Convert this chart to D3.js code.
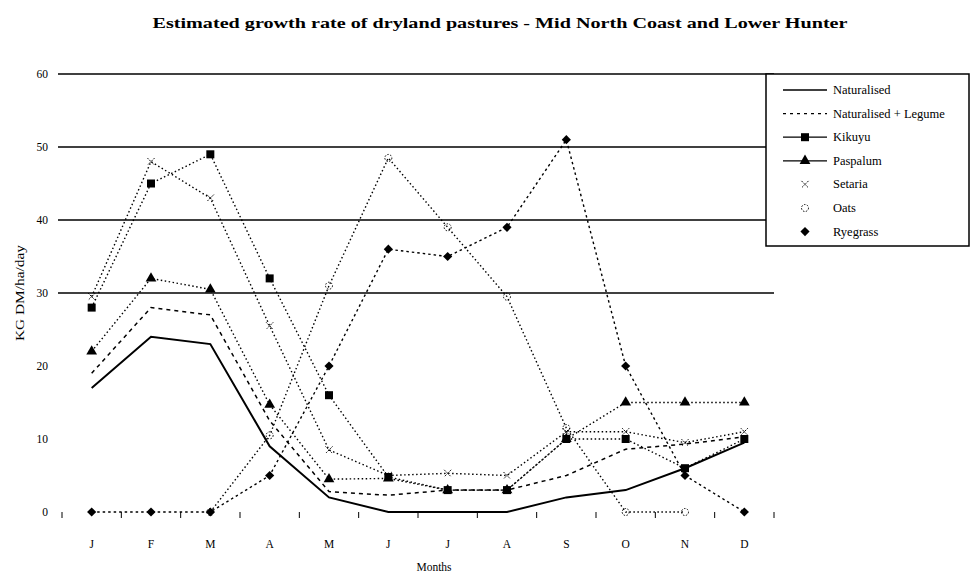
<!DOCTYPE html>
<html><head><meta charset="utf-8">
<script src="https://cdn.jsdelivr.net/npm/d3@7"></script>
<style>body{margin:0;background:#fff;}svg{display:block;font-family:"Liberation Serif","Times New Roman",serif;}</style>
</head><body>
<svg id="c" width="972" height="574"></svg>
<script>
const months = ["J","F","M","A","M","J","J","A","S","O","N","D"];
const yTicks = [0,10,20,30,40,50,60];
const gridValues = [30,40,50,60];
const seriesNames = ["Naturalised","Naturalised + Legume","Kikuyu","Paspalum","Setaria","Oats","Ryegrass"];
const naturalised = [17,24,23,9,2,0,0,0,2,3,6,9.5];
const natLegume = [19,28,27,12.5,2.8,2.3,3,3,5,8.6,9.3,10.3];
const kikuyu = [28,45,49,32,16,4.8,3,3,10,10,6,10];
const paspalum = [22,32,30.5,14.7,4.5,4.6,3,3,10,15,15,15];
const setaria = [29.5,48,43,25.5,8.5,5,5.3,5,11,11,9.5,11];
const oats = [null,null,0,10.5,31,48.5,39,29.5,11.5,0,0,null];
const ryegrass = [0,0,0,5,20,36,35,39,51,20,5,0];

const svg = d3.select("#c");
const x = d3.scaleBand().domain(d3.range(12)).range([62,774]).padding(0);
const y = d3.scaleLinear().domain([0,60]).range([512,74]);
const cx = i => x(i) + x.bandwidth()/2;

// title
svg.append("text").attr("x",500).attr("y",28).attr("text-anchor","middle")
  .attr("font-size",14).attr("font-weight","bold").attr("textLength",695).attr("lengthAdjust","spacingAndGlyphs")
  .text("Estimated growth rate of dryland pastures - Mid North Coast and Lower Hunter");

// gridlines
svg.append("g").selectAll("line").data(gridValues).join("line")
  .attr("x1",58).attr("x2",774).attr("y1",d=>y(d)).attr("y2",d=>y(d))
  .attr("stroke","#000").attr("stroke-width",1.3);

// y axis labels via d3 axis
const yAxis = d3.axisLeft(y).tickValues(yTicks).tickSize(0).tickPadding(0);
const gy = svg.append("g").attr("transform","translate(48,0)").call(yAxis);
gy.select(".domain").remove();
gy.selectAll("text").attr("font-size",11.5).attr("font-family","Liberation Serif, serif").attr("fill","#000");

// x axis labels
const xAxis = d3.axisBottom(x).tickFormat(i=>months[i]).tickSize(0).tickPadding(0);
const gx = svg.append("g").attr("transform","translate(0,540)").call(xAxis);
gx.select(".domain").remove();
gx.selectAll("text").attr("font-size",11.5).attr("font-family","Liberation Serif, serif").attr("fill","#000");

// tick marks at band boundaries
const bounds = d3.range(13).map(i => i<12 ? x(i) : x(11)+x.bandwidth());
svg.append("g").selectAll("line").data(bounds).join("line")
  .attr("x1",d=>d).attr("x2",d=>d).attr("y1",512).attr("y2",518)
  .attr("stroke","#000").attr("stroke-width",1);

// axis titles
svg.append("text").attr("x",434).attr("y",571).attr("text-anchor","middle").attr("font-size",11.5).text("Months");
svg.append("text").attr("transform","translate(24,293) rotate(-90)").attr("text-anchor","middle")
  .attr("font-size",11.5).attr("textLength",96).attr("lengthAdjust","spacingAndGlyphs").text("KG DM/ha/day");

const styles = [
  {data:naturalised, dash:null, w:2, sym:null},
  {data:natLegume, dash:"4,4", w:1.5, sym:null},
  {data:kikuyu, dash:"1.5,2.5", w:1.4, sym:"square"},
  {data:paspalum, dash:"1.5,2.5", w:1.4, sym:"triangle"},
  {data:setaria, dash:"1.5,2.5", w:1.4, sym:"cross"},
  {data:oats, dash:"1.5,2.5", w:1.4, sym:"circle"},
  {data:ryegrass, dash:"2.5,3", w:1.4, sym:"diamond"}
];

const line = d3.line().defined(d=>d!=null).x((d,i)=>cx(i)).y(d=>y(d));

function drawMarker(g, type, px, py){
  if(type==="square") g.append("rect").attr("x",px-4).attr("y",py-4).attr("width",8).attr("height",8).attr("fill","#000");
  else if(type==="triangle") g.append("path").attr("d",d3.symbol(d3.symbolTriangle,50)()).attr("transform",`translate(${px},${py})`).attr("fill","#000");
  else if(type==="cross") g.append("path").attr("d",`M${px-3.5},${py-3.5}L${px+3.5},${py+3.5}M${px+3.5},${py-3.5}L${px-3.5},${py+3.5}`).attr("stroke","#000").attr("stroke-width",1).attr("stroke-dasharray","1.5,1");
  else if(type==="circle") g.append("circle").attr("cx",px).attr("cy",py).attr("r",3.5).attr("fill","none").attr("stroke","#000").attr("stroke-width",1).attr("stroke-dasharray","1.5,1.5");
  else if(type==="diamond") g.append("path").attr("d",d3.symbol(d3.symbolSquare,42)()).attr("transform",`translate(${px},${py}) rotate(45)`).attr("fill","#000");
}

styles.forEach(s=>{
  const g = svg.append("g");
  g.append("path").datum(s.data).attr("d",line).attr("fill","none")
    .attr("stroke","#000").attr("stroke-width",s.w).attr("stroke-dasharray",s.dash);
  if(s.sym) s.data.forEach((v,i)=>{ if(v!=null) drawMarker(g,s.sym,cx(i),y(v)); });
});

// legend
const lg = svg.append("g");
lg.append("rect").attr("x",766).attr("y",74).attr("width",203).attr("height",172)
  .attr("fill","#fff").attr("stroke","#000").attr("stroke-width",1.5);
seriesNames.forEach((n,i)=>{
  const ly = 90 + i*23.6;
  const s = styles[i];
  if(i<4) lg.append("line").attr("x1",783).attr("x2",827).attr("y1",ly).attr("y2",ly)
    .attr("stroke","#000").attr("stroke-width",i===0?1.5:1.3).attr("stroke-dasharray",i===1?"3,4":null);
  if(s.sym) drawMarker(lg,s.sym,805,ly);
  lg.append("text").attr("x",833).attr("y",ly+4).attr("font-size",12.5).text(n);
});
</script>
</body></html>
